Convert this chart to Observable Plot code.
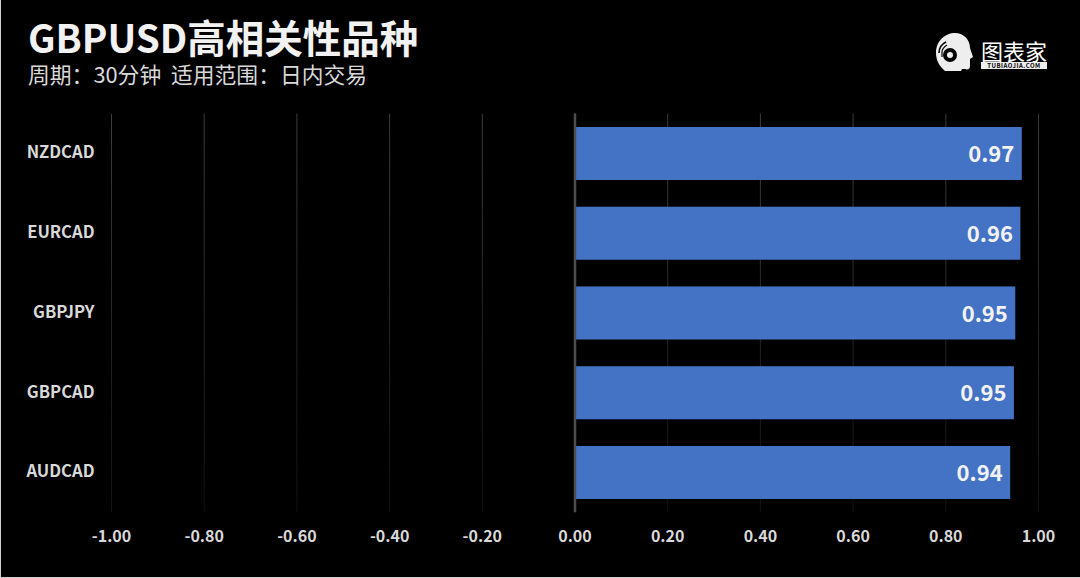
<!DOCTYPE html>
<html><head><meta charset="utf-8">
<script src="https://cdn.jsdelivr.net/npm/d3@7"></script>
<script src="https://cdn.jsdelivr.net/npm/@observablehq/plot@0.6"></script>
<style>
html,body{margin:0;padding:0;background:#000;width:1080px;height:578px;overflow:hidden}
#wrap{position:relative;width:1080px;height:578px;background:#000;font-family:"Noto Sans CJK SC",sans-serif;color:#fff;box-sizing:border-box;border-left:1px solid #cfcfcf;border-bottom:1px solid #cfcfcf}
#title{position:absolute;left:27px;top:14px;font-size:38.5px;font-weight:700;line-height:44px;white-space:nowrap;color:#f2f2f2}
#sub{position:absolute;left:27px;top:61px;font-size:21.8px;line-height:26px;white-space:nowrap;color:#d9d9d9}
#chart{position:absolute;left:-1px;top:0}
#logo{position:absolute;left:980px;top:38px;font-size:22px;font-weight:400;line-height:24px;white-space:nowrap}
#logo2{position:absolute;left:980px;top:62px;width:66px;height:7px;font-size:6px;font-weight:700;background:#eee;color:#000;text-align:center;line-height:7px;letter-spacing:.5px;white-space:nowrap;overflow:hidden}
#head{position:absolute;left:934px;top:33px}
</style></head><body>
<div id="wrap"><div id="chart"></div>
<div id="title">GBPUSD高相关性品种</div>
<div id="sub">周期：30分钟&nbsp;&nbsp;适用范围：日内交易</div>
<svg id="head" width="40" height="40" viewBox="0 0 40 40"><path d="M10 38C4 33 1 27 1 20 1 8 10 0 20 0c9 0 15 7 15 15l3 9-3 2v7c0 3-2 4-5 3h-3l-1 2z" fill="#eee"/><circle cx="15" cy="22" r="7" fill="#000"/><circle cx="15" cy="22" r="3" fill="#eee"/><path d="M4 20c0-5 3-9 7-11" fill="none" stroke="#000" stroke-width="1.6"/><path d="M7 24v-5c0-3 2-5 5-7" fill="none" stroke="#000" stroke-width="1.2"/></svg>
<div id="logo">图表家</div><div id="logo2">TUBIAOJIA.COM</div>
</div>
<script>
const categories=["NZDCAD","EURCAD","GBPJPY","GBPCAD","AUDCAD"];
const values=[0.965,0.962,0.951,0.948,0.94];
const labels=["0.97","0.96","0.95","0.95","0.94"];
const ticks=[-1,-0.8,-0.6,-0.4,-0.2,0,0.2,0.4,0.6,0.8,1];
const rows=categories.map((c,i)=>({c,v:values[i],l:labels[i]}));
const p=Plot.plot({width:1080,height:578,marginLeft:111,marginRight:42,marginTop:113.6,marginBottom:65.65,
style:{background:"transparent",fontFamily:'"Noto Sans CJK SC",sans-serif'},
x:{domain:[-1,1],ticks,tickFormat:d=>d.toFixed(2)},
y:{domain:categories,paddingInner:0.335,paddingOuter:0.1675,label:null,align:0.5,round:false},
marks:[
Plot.gridX(ticks,{stroke:"url(#gridFade)",strokeOpacity:1,strokeWidth:1}),
Plot.barX(rows,{x:"v",y:"c",fill:"#4472c4"}),
Plot.ruleX([0],{stroke:"#4d4d4d",strokeWidth:2.5}),
Plot.text(rows,{x:"v",y:"c",text:"l",dx:-8,dy:1,textAnchor:"end",fill:"#f2f2f2",fontSize:22,fontWeight:700}),
Plot.axisX({ticks,tickFormat:d=>d.toFixed(2),tickSize:0,tickPadding:18,label:null,anchor:"bottom",fill:"#d9d9d9",fontSize:16,fontWeight:700}),
Plot.axisY({tickSize:0,tickPadding:17,dy:-1,label:null,fill:"#d9d9d9",fontSize:16.6,fontWeight:700})
]});
const defs=document.createElementNS("http://www.w3.org/2000/svg","defs");
defs.innerHTML='<linearGradient id="gridFade" gradientUnits="userSpaceOnUse" x1="0" y1="113" x2="0" y2="512"><stop offset="0" stop-color="#3c3c3c"/><stop offset="0.5" stop-color="#262626"/><stop offset="1" stop-color="#111"/></linearGradient>';
p.prepend(defs);
document.getElementById("chart").append(p);
</script></body></html>
